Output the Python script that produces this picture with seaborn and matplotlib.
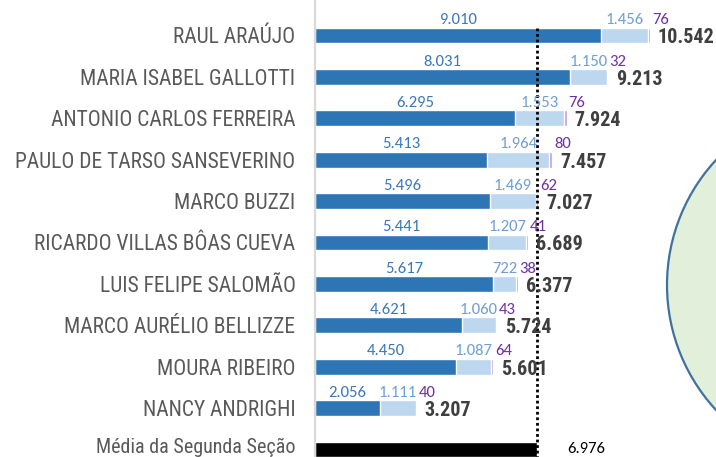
import matplotlib
matplotlib.use("Agg")
import matplotlib.pyplot as plt
import matplotlib.transforms as mtransforms
from matplotlib.patches import Circle
import seaborn as sns
import pandas as pd

# Ministers and their case counts by category
names = [
    "RAUL ARAÚJO", "MARIA ISABEL GALLOTTI", "ANTONIO CARLOS FERREIRA",
    "PAULO DE TARSO SANSEVERINO", "MARCO BUZZI", "RICARDO VILLAS BÔAS CUEVA",
    "LUIS FELIPE SALOMÃO", "MARCO AURÉLIO BELLIZZE", "MOURA RIBEIRO",
    "NANCY ANDRIGHI",
]
primary = [9010, 8031, 6295, 5413, 5496, 5441, 5617, 4621, 4450, 2056]
secondary = [1456, 1150, 1553, 1964, 1469, 1207, 722, 1060, 1087, 1111]
tertiary = [76, 32, 76, 80, 62, 41, 38, 43, 64, 40]
totals = [10542, 9213, 7924, 7457, 7027, 6689, 6377, 5724, 5601, 3207]
mean_label = "Média da Segunda Seção"
mean_value = 6976

order = names + [mean_label]

df = pd.DataFrame({
    "name": names,
    "primary": primary,
    "secondary": secondary,
    "tertiary": tertiary,
    "total": totals,
})
df["cum2"] = df["primary"] + df["secondary"]
mean_df = pd.DataFrame({"name": [mean_label], "value": [mean_value]})

C_DARK = "#2e75b6"
C_LIGHT = "#bdd7ee"
C_PURPLE = "#c39be3"
T_DARK = "#3a78b8"
T_LIGHT = "#6f9fd2"
T_PURPLE = "#7030a0"
T_TOTAL = "#3f3f3f"
T_NAME = "#595959"
NUM_FONT = ["Carlito", "DejaVu Sans"]
NARROW_FONT = ["Roboto Condensed", "DejaVu Sans"]

sns.set_theme(style="white")
plt.rcParams["font.family"] = NARROW_FONT

W, H, DPI = 716, 457, 100
fig = plt.figure(figsize=(W / DPI, H / DPI), dpi=DPI)
px = 0.031778  # pixels per case
x0 = 315
ax = fig.add_axes([x0 / W, 0, (W - x0) / W, 1])

bw = 0.38
sns.barplot(data=df, x="total", y="name", order=order, orient="h",
            color=C_PURPLE, saturation=1, width=bw, ax=ax, errorbar=None)
sns.barplot(data=df, x="cum2", y="name", order=order, orient="h",
            color=C_LIGHT, saturation=1, width=bw, ax=ax, errorbar=None)
sns.barplot(data=df, x="primary", y="name", order=order, orient="h",
            color=C_DARK, saturation=1, width=bw, ax=ax, errorbar=None)
sns.barplot(data=mean_df, x="value", y="name", order=order, orient="h",
            color="black", saturation=1, width=bw, ax=ax, errorbar=None)

row_h = 41.4
top = 35.5
ax.set_xlim(0, (W - x0) / px)
ax.set_ylim((H - top) / row_h, -top / row_h)


def fmt(v):
    return f"{v:,}".replace(",", ".")


lab_dy = -0.37
for i, r in df.iterrows():
    ax.text(r["primary"] / 2, i + lab_dy, fmt(r["primary"]), ha="center",
            va="center", fontsize=12, color=T_DARK, family=NUM_FONT)
    ax.text(r["primary"] + r["secondary"] / 2, i + lab_dy, fmt(r["secondary"]),
            ha="center", va="center", fontsize=12, color=T_LIGHT,
            family=NUM_FONT)
    ax.text(r["total"] + 60, i + lab_dy, fmt(r["tertiary"]), ha="left",
            va="center", fontsize=12, color=T_PURPLE, family=NUM_FONT)
    ax.text(r["total"] + 250, i + 0.06, fmt(r["total"]), ha="left",
            va="center", fontsize=14.5, fontweight="bold", color=T_TOTAL)

ax.text(mean_value + 950, 9.98, fmt(mean_value), ha="left", va="center",
        fontsize=12, color="black", family=NUM_FONT)

# dotted reference line at the section mean
ax.vlines(mean_value, -bw / 2, 10.5, colors="black", linestyles=(0, (1, 1)),
          linewidth=2.0)

ax.set_xlabel("")
ax.set_ylabel("")
ax.set_xticks([])
ax.tick_params(axis="y", length=0, pad=14)
lift = mtransforms.ScaledTranslation(0, 3 / 72, fig.dpi_scale_trans)
for lbl in ax.get_yticklabels():
    lbl.set_fontsize(15.5)
    lbl.set_color(T_NAME)
    if lbl.get_text() == mean_label:
        lbl.set_fontsize(14.5)
        lbl.set_transform(lbl.get_transform() + lift)
for s in ["top", "right", "bottom"]:
    ax.spines[s].set_visible(False)
ax.spines["left"].set_color("#d9d9d9")
ax.spines["left"].set_linewidth(1.6)

circ = Circle((8.51, (H - 285) / DPI), 1.84, transform=fig.dpi_scale_trans,
              facecolor="#e2efda", edgecolor="#41719c", linewidth=1.6,
              zorder=0)
fig.patches.append(circ)

fig.savefig("out.png", dpi=DPI)
